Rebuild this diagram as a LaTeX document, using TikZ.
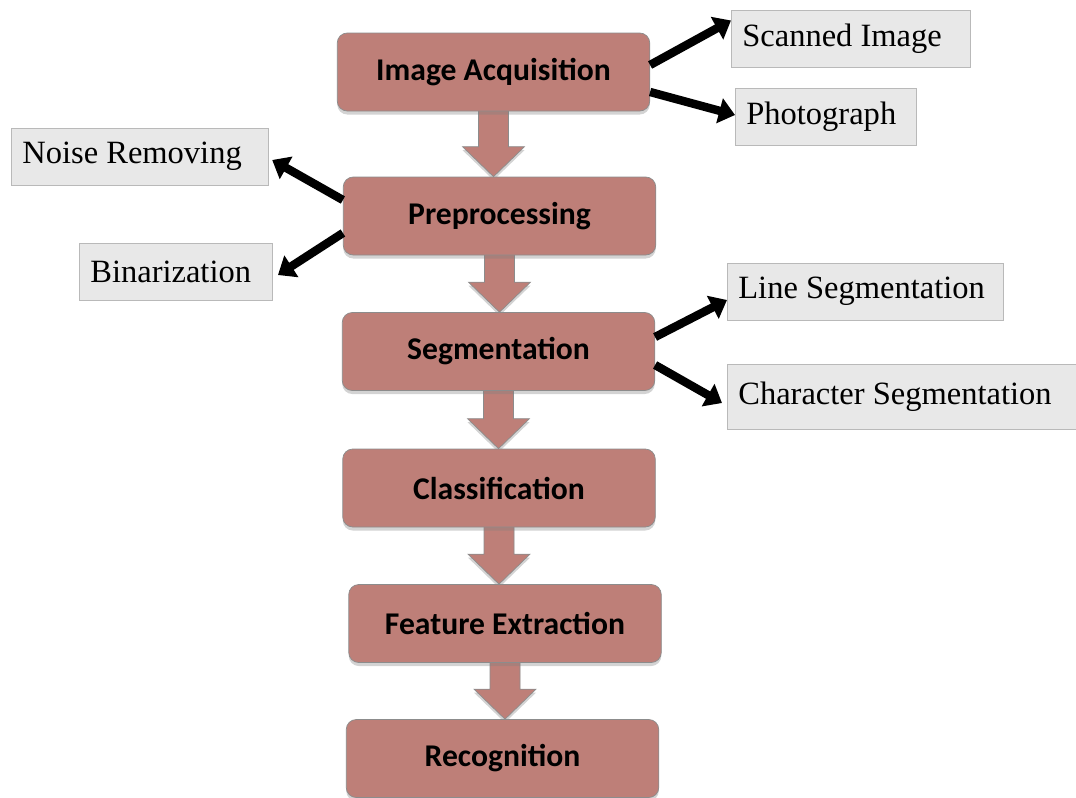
\documentclass[tikz,border=0pt]{standalone}
\usepackage{fontspec}
\setmainfont{Liberation Serif}
\newfontfamily\stagefont{Carlito}
\usetikzlibrary{arrows.meta, shadows, calc, backgrounds}

\definecolor{stagebrown}{RGB}{190,127,120}
\definecolor{stageedge}{RGB}{140,140,140}
\definecolor{subgray}{RGB}{232,232,232}
\definecolor{subedge}{RGB}{185,185,185}

\tikzset{
  stage/.style={draw=stageedge, fill=stagebrown, rounded corners=0.2cm,
    minimum width=6.25cm, minimum height=1.56cm,
    font=\stagefont\bfseries\fontsize{18}{20}\selectfont,
    drop shadow={shadow xshift=0pt, shadow yshift=-2pt, opacity=0.35}},
  sub/.style={draw=subedge, fill=subgray, anchor=west, align=flush left,
    inner xsep=0.22cm, minimum height=1.14cm,
    font=\fontsize{18.5}{22}\selectfont},
  flow/.style={draw=stageedge, fill=stagebrown,
    drop shadow={shadow xshift=0pt, shadow yshift=-2pt, opacity=0.35}},
  link/.style={line width=4.8pt, -{Triangle[length=0.32cm, width=0.5cm]}}
}

\begin{document}
\begin{tikzpicture}
\useasboundingbox (0,0) rectangle (21.52,-15.96);

\node[stage] (acq) at (9.87,-1.44) {Image Acquisition};
\node[stage] (pre) at (9.99,-4.32) {Preprocessing};
\node[stage] (seg) at (9.97,-7.03) {Segmentation};
\node[stage] (cls) at (9.98,-9.76) {Classification};
\node[stage] (fea) at (10.10,-12.47) {Feature Extraction};
\node[stage] (rec) at (10.05,-15.17) {Recognition};

\node[sub, text width=4.34cm] (scan) at (14.62,-0.77) {Scanned Image};
\node[sub, text width=3.18cm] (photo) at (14.70,-2.34) {Photograph};
\node[sub, text width=4.70cm] (noise) at (0.22,-3.13) {Noise Removing};
\node[sub, text width=3.42cm] (bin) at (1.58,-5.43) {Binarization};
\node[sub, text width=5.08cm] (line) at (14.54,-5.83) {Line Segmentation};
\node[sub, text width=6.54cm, minimum height=1.3cm] (char) at (14.54,-7.94) {Character Segmentation};

\begin{scope}[on background layer]
\foreach \a/\b in {acq/pre, pre/seg, seg/cls, cls/fea, fea/rec}
  \draw[flow] let \p1=(\a.south), \p2=(\b.north) in
    (\x1-0.3cm,\y1+2pt) -- (\x1-0.3cm,\y2+0.6cm) -- (\x1-0.62cm,\y2+0.6cm) -- (\x1,\y2)
    -- (\x1+0.62cm,\y2+0.6cm) -- (\x1+0.3cm,\y2+0.6cm) -- (\x1+0.3cm,\y1+2pt) -- cycle;
\end{scope}

\draw[link] ([yshift=0.14cm]acq.east) -- ([yshift=0.36cm]scan.west);
\draw[link] ([yshift=-0.4cm]acq.east) -- ([yshift=0.04cm]photo.west);
\draw[link] ([yshift=0.32cm]pre.west) -- ([xshift=2pt,yshift=-0.07cm]noise.east);
\draw[link] ([yshift=-0.34cm]pre.west) -- ([xshift=3pt,yshift=-0.07cm]bin.east);
\draw[link] ([yshift=0.29cm]seg.east) -- ([yshift=-0.17cm]line.west);
\draw[link] ([yshift=-0.27cm]seg.east) -- ([xshift=-0.1cm,yshift=-0.12cm]char.west);
\end{tikzpicture}
\end{document}
